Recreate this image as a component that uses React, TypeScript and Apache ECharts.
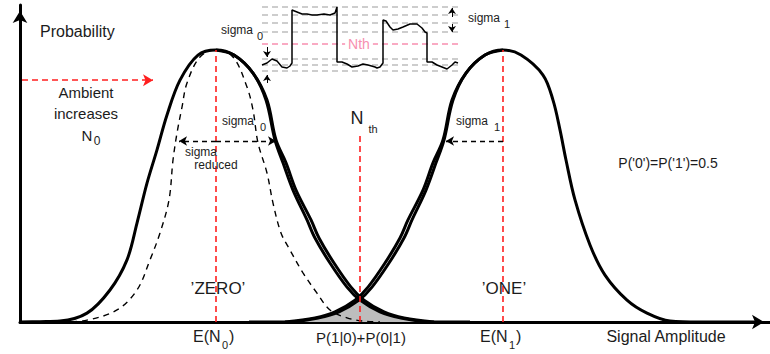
import React, { useEffect, useRef } from "react";
import * as echarts from "echarts";

const FONT = "'Liberation Sans', Arial, Helvetica, sans-serif";
const INK = "#1c1c1c";
const RED = "#ff1f1f";
const PINK = "#f78fb0";

// Probability density of the received amplitude, sampled as [amplitude, density]
const zeroCurve = [
  [0, 0], [20, 0.1], [40, 0.3], [67, 2.8], [90, 10.1], [107, 19.6], [117, 31.2],
  [127, 43.8], [137, 54.3], [147, 65.3], [160, 76.3], [178, 84.2], [196, 85.8],
  [214, 84.2], [233, 78.5], [246, 70.0], [255, 57.4], [263, 50.2], [273, 41.6],
  [287, 32.2], [295, 26.5], [310, 18.6], [327, 11.0], [340, 6.9], [360, 3.2],
  [380, 1.3], [410, 0], [450, 0],
];
const zeroCurveAmbient = [
  [196, 85.8], [214, 84.2], [233, 78.5], [247, 70.0], [256, 57.4], [266, 50.2],
  [276, 41.6], [291, 32.2], [299, 26.5], [314, 18.6], [331, 11.0], [344, 6.9],
  [364, 3.2], [384, 1.3], [414, 0],
];
const oneCurve = [
  [229, 0], [269, 0], [299, 1.3], [319, 3.2], [339, 6.9], [352, 11.0], [369, 18.6],
  [384, 26.5], [392, 32.2], [406, 41.6], [416, 50.2], [424, 57.4], [433, 70.0],
  [446, 78.5], [465, 84.2], [483, 85.8], [501, 84.2], [523, 77.9], [533, 70.0],
  [540, 60.6], [546, 51.1], [555, 38.5], [570, 24.3], [585, 14.8], [607, 6.9],
  [627, 2.8], [650, 0.3], [680, 0], [740, 0],
];
const oneCurveAmbient = [
  [265, 0], [295, 1.3], [315, 3.2], [335, 6.9], [348, 11.0], [365, 18.6],
  [380, 26.5], [388, 32.2], [403, 41.6], [413, 50.2], [423, 57.4], [432, 70.0],
  [446, 78.5], [465, 84.2], [483, 85.8],
];
const zeroReducedCurve = [
  [40, 0], [67, 0.6], [97, 3.8], [117, 10.1], [130, 19.6], [140, 28.1],
  [149, 38.5], [153, 51.1], [157, 59.6], [162, 67.8], [167, 75.4], [180, 83.6],
  [196, 85.8], [213, 83.6], [227, 74.1], [233, 66.9], [238, 56.5], [247, 47.0],
  [253, 37.5], [261, 28.1], [270, 22.7], [283, 15.5], [297, 9.1], [310, 3.8],
  [327, 1.3], [343, 0.3], [360, 0],
];
// Shared tail region between the two densities (error probability)
const errorOverlap = [
  [270, 0], [295, 1.3], [315, 3.2], [335, 6.9], [340, 7.6], [344, 6.9],
  [364, 3.2], [384, 1.3], [410, 0],
];

const meanZero = 196;
const meanOne = 483;
const threshold = 340;
const thresholdTop = 59;
const peakDensity = 85.8;
const sigmaLevel = 57.1;
const sigmaZeroReach = 256;
const sigmaReducedReach = 159;
const sigmaOneReach = 426;
const ambientArrow = [2, 133];
const ambientLevel = 76.3;

// Inset: received waveform, [time, level]
const trace = [
  [0, 20], [5, 22], [10, 26], [15, 24], [20, 18], [25, 17], [28, 19], [30, 22],
  [30, 75], [35, 73], [40, 71], [45, 71], [50, 70], [55, 70], [62, 71], [68, 70],
  [73, 72], [75, 78], [75, 23], [80, 23], [85, 21], [90, 18], [96, 19], [101, 21],
  [106, 20], [113, 18], [115, 17], [118, 18], [121, 22], [121, 65], [124, 64],
  [128, 58], [131, 55], [136, 56], [141, 58], [148, 61], [155, 61], [160, 57],
  [163, 53], [165, 52], [165, 23], [170, 23], [175, 20], [180, 18], [185, 16],
  [190, 20], [193, 23], [196, 22],
];
const bandLevels = [78, 70, 62, 53, 26, 20, 14];
const thresholdLevel = 41;
const noiseArrows = [
  [5, 38, 28], [5, 2, 10], [190, 68, 77], [190, 61, 53],
];

type Label = [string, number, number, number, ("left" | "center" | "right")?];
const labels: Label[] = [
  ["Probability", 40, 31, 16, "left"],
  ["Ambient", 86, 92, 15],
  ["increases", 86, 113, 15],
  ["N", 87, 135, 15],
  ["0", 97, 141, 12],
  ["sigma", 237, 30, 12],
  ["0", 260, 36, 11],
  ["sigma", 484, 18, 12],
  ["1", 507, 24, 11],
  ["sigma", 238, 121, 12],
  ["0", 263, 127, 11],
  ["sigma", 201, 152, 12],
  ["reduced", 216, 165, 12],
  ["sigma", 472, 121, 12],
  ["1", 497, 127, 11],
  ["N", 357, 118, 18],
  ["th", 373, 129, 11],
  ["P('0')=P('1')=0.5", 668, 163, 14],
  ["\u2019ZERO\u2019", 218, 288, 17],
  ["\u2019ONE\u2019", 504, 288, 17],
  ["E(N", 193, 336, 16, "left"],
  ["0", 225, 345, 11],
  [")", 229, 336, 16, "left"],
  ["E(N", 480, 336, 16, "left"],
  ["1", 512, 345, 11],
  [")", 516, 336, 16, "left"],
  ["P(1|0)+P(0|1)", 361, 337, 15],
  ["Signal Amplitude", 666, 336, 16],
];

function densityLine(data: number[][], dashed = false, width = 3) {
  return {
    type: "line",
    xAxisIndex: 0,
    yAxisIndex: 0,
    data,
    smooth: 0.35,
    symbol: "none",
    silent: true,
    z: 4,
    lineStyle: { color: "#000", width, type: dashed ? [6, 5] : "solid" },
  };
}

function markSeries(xi: number, markLine: any, z = 3) {
  return {
    type: "line",
    xAxisIndex: xi,
    yAxisIndex: xi,
    data: [],
    silent: true,
    z,
    markLine: { silent: true, label: { show: false }, ...markLine },
  };
}

export default function App() {
  const ref = useRef<HTMLDivElement>(null);

  useEffect(() => {
    document.body.style.margin = "0";
    if (!ref.current) return;
    const chart = echarts.init(ref.current, undefined, { renderer: "svg" });

    const axisBase = {
      axisTick: { show: false },
      axisLabel: { show: false },
      splitLine: { show: false },
    };
    const mainAxisLine = {
      show: true,
      lineStyle: { color: "#000", width: 3 },
      symbol: ["none", "arrow"],
      symbolSize: [11, 12],
      symbolOffset: [0, -6],
    };

    const option: any = {
      animation: false,
      grid: [
        { left: 20, right: 0, top: 5, bottom: 32 },
        { left: 262, top: 5, width: 196, height: 80 },
      ],
      xAxis: [
        { type: "value", gridIndex: 0, min: 0, max: 750, axisLine: mainAxisLine, ...axisBase },
        { type: "value", gridIndex: 1, min: 0, max: 196, show: false },
      ],
      yAxis: [
        { type: "value", gridIndex: 0, min: 0, max: 100, axisLine: mainAxisLine, ...axisBase },
        { type: "value", gridIndex: 1, min: 0, max: 80, show: false },
      ],
      series: [
        {
          type: "line",
          xAxisIndex: 0,
          yAxisIndex: 0,
          data: errorOverlap,
          smooth: 0.3,
          symbol: "none",
          silent: true,
          z: 1,
          lineStyle: { width: 0 },
          areaStyle: { color: "#bdbdbd", opacity: 1 },
        },
        markSeries(0, {
          symbol: ["none", "none"],
          lineStyle: { color: RED, type: [6, 4], width: 1.6 },
          data: [
            [{ coord: [meanZero, 0] }, { coord: [meanZero, peakDensity] }],
            [{ coord: [meanOne, 0] }, { coord: [meanOne, peakDensity] }],
            [{ coord: [threshold, 0] }, { coord: [threshold, thresholdTop] }],
          ],
        }, 2),
        markSeries(0, {
          symbol: ["none", "arrow"],
          symbolSize: [9, 10],
          lineStyle: { color: RED, type: [6, 4], width: 1.5 },
          data: [[{ coord: [ambientArrow[0], ambientLevel] }, { coord: [ambientArrow[1], ambientLevel] }]],
        }),
        markSeries(0, {
          symbol: ["none", "arrow"],
          symbolSize: [7, 8],
          lineStyle: { color: "#000", type: [5, 4], width: 1.4 },
          data: [
            [{ coord: [meanZero, sigmaLevel] }, { coord: [sigmaReducedReach, sigmaLevel] }],
            [{ coord: [meanZero, sigmaLevel] }, { coord: [sigmaZeroReach, sigmaLevel] }],
            [{ coord: [meanOne, sigmaLevel] }, { coord: [sigmaOneReach, sigmaLevel] }],
          ],
        }),
        densityLine(zeroReducedCurve, true, 1.4),
        densityLine(zeroCurve),
        densityLine(zeroCurveAmbient),
        densityLine(oneCurve),
        densityLine(oneCurveAmbient),
        // inset waveform
        markSeries(1, {
          symbol: "none",
          lineStyle: { color: "#bdbdbd", type: [6, 4], width: 1.5 },
          data: bandLevels.map((v) => ({ yAxis: v })),
        }),
        markSeries(1, {
          symbol: "none",
          lineStyle: { color: PINK, type: [6, 4], width: 1.5 },
          data: [{ yAxis: thresholdLevel }],
        }),
        markSeries(1, {
          symbol: ["none", "arrow"],
          symbolSize: [6, 6],
          lineStyle: { color: "#000", type: "solid", width: 1 },
          data: noiseArrows.map(([x, a, b]) => [{ coord: [x, a] }, { coord: [x, b] }]),
        }),
        {
          type: "line",
          xAxisIndex: 1,
          yAxisIndex: 1,
          data: trace,
          smooth: false,
          symbol: "none",
          silent: true,
          z: 5,
          lineStyle: { color: "#000", width: 1.5 },
        },
      ],
      graphic: [
        ...labels.map(([text, x, y, size, align]) => ({
          type: "text",
          x,
          y,
          z: 100,
          silent: true,
          style: {
            text,
            font: `${size}px ${FONT}`,
            fill: INK,
            align: align || "center",
            verticalAlign: "middle",
          },
        })),
        {
          type: "text",
          x: 359,
          y: 44,
          z: 100,
          silent: true,
          style: {
            text: "Nth",
            font: `14px ${FONT}`,
            fill: PINK,
            align: "center",
            verticalAlign: "middle",
            backgroundColor: "#fff",
            padding: [1, 3],
          },
        },
      ],
    };

    chart.setOption(option);
    return () => chart.dispose();
  }, []);

  return (
    <div
      ref={ref}
      style={{ position: "absolute", left: 0, top: 0, width: 770, height: 354, background: "#fff" }}
    />
  );
}
